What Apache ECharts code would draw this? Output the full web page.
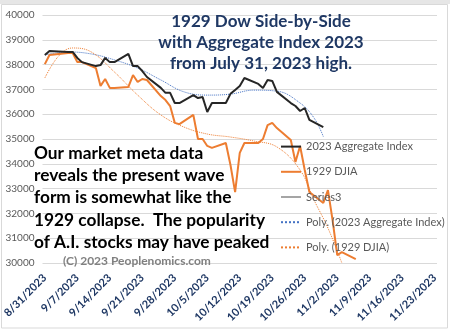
<!DOCTYPE html>
<html><head><meta charset="utf-8">
<script src="https://cdn.jsdelivr.net/npm/echarts@6/dist/echarts.min.js"></script>
<style>html,body{margin:0;padding:0;background:#fff}#c{width:450px;height:330px}</style>
</head><body><div id="c"></div>
<script>
// ---- data ----
const tickLabels = ['8/31/2023','9/7/2023','9/14/2023','9/21/2023','9/28/2023','10/5/2023','10/12/2023','10/19/2023','10/26/2023','11/2/2023','11/9/2023','11/16/2023','11/23/2023'];
const tradingDays = ['8/31/2023','9/1/2023','9/5/2023','9/6/2023','9/7/2023','9/8/2023','9/11/2023','9/12/2023','9/13/2023','9/14/2023','9/15/2023','9/18/2023','9/19/2023','9/20/2023','9/21/2023','9/22/2023','9/25/2023','9/26/2023','9/27/2023','9/28/2023','9/29/2023','10/2/2023','10/3/2023','10/4/2023','10/5/2023','10/6/2023','10/9/2023','10/10/2023','10/11/2023','10/12/2023','10/13/2023','10/16/2023','10/17/2023','10/18/2023','10/19/2023','10/20/2023','10/23/2023','10/24/2023','10/25/2023','10/26/2023','10/27/2023','10/30/2023','10/31/2023','11/1/2023','11/2/2023','11/3/2023','11/6/2023'];
const aggregate2023 = [38390,38550,38510,38510,38270,38100,37940,37980,38270,38100,38100,38430,37940,37940,37740,37500,37060,36860,36860,36450,36450,36770,36650,36690,36090,36450,36450,36820,36980,37140,37460,37220,37060,37380,37340,36900,36450,36330,36130,36250,35770,35480];
const djia1929 = [38020,38390,38470,38470,38100,38100,37860,37140,37420,37060,37060,37100,37580,37300,37420,37380,36730,36570,36330,35650,35600,35970,35000,35000,34720,34640,34840,33950,32860,34440,34840,34840,35000,35560,35650,35440,34960,34070,34720,33750,32860,32420,32940,31730,30320,30440,30160];
const polyAggDays = ['8/31/2023','9/5/2023','9/10/2023','9/15/2023','9/20/2023','9/25/2023','9/30/2023','10/5/2023','10/10/2023','10/15/2023','10/20/2023','10/25/2023','10/28/2023','10/30/2023'];
const polyAggValues = [38390,38510,38430,38190,37860,37380,36900,36770,36810,36970,36930,36450,35850,35100];
const polyDjiaDays = ['8/31/2023','9/3/2023','9/6/2023','9/10/2023','9/15/2023','9/20/2023','9/25/2023','9/30/2023','10/5/2023','10/10/2023','10/15/2023','10/20/2023','10/25/2023','10/28/2023','10/31/2023','11/3/2023'];
const polyDjiaValues = [37460,38350,38670,38510,37700,36770,35970,35480,35200,35080,34920,34680,33750,32540,31410,30000];
const titleLines = ['1929 Dow Side-by-Side','with Aggregate Index 2023','from July 31, 2023 high.'];
const noteLines = ['Our market meta data','reveals the present wave','form is somewhat like the','1929 collapse.  The popularity','of A.I. stocks may have peaked'];
const copyright = '(C) 2023 Peoplenomics.com';

// ---- build axis categories (calendar days) ----
const categories = [];
for (let d = new Date(2023,7,31); d <= new Date(2023,10,23); d.setDate(d.getDate()+1)) {
  categories.push((d.getMonth()+1)+'/'+d.getDate()+'/'+d.getFullYear());
}
const pair = (days, vals) => vals.map((v,i)=>[days[i], v]);

const chart = echarts.init(document.getElementById('c'), null, {renderer:'canvas'});
chart.setOption({
  animation:false,
  backgroundColor:'#fff',
  grid:{left:41, right:13, top:15, bottom:67, containLabel:false},
  xAxis:{type:'category', data:categories, boundaryGap:true,
    axisLine:{show:false}, axisTick:{show:false}, splitLine:{show:false},
    axisLabel:{rotate:45, margin:13, interval:(i,v)=>tickLabels.includes(v),
      color:'#1f3864', fontFamily:'Lato', fontWeight:'bold', fontSize:11}},
  yAxis:{type:'value', min:30000, max:40000, interval:1000,
    axisLine:{show:false}, axisTick:{show:false},
    splitLine:{lineStyle:{color:'#d9d9d9', width:1}},
    axisLabel:{color:'#595959', fontFamily:'Lato', fontSize:10, margin:8, formatter:v=>String(v)}},
  legend:{orient:'vertical', left:275, top:136, itemWidth:20, itemHeight:14, itemGap:14,
    itemStyle:{opacity:0},
    textStyle:{color:'#595959', fontFamily:'Lato', fontSize:11},
    data:['2023 Aggregate Index','1929 DJIA','Series3','Poly. (2023 Aggregate Index)','Poly. (1929 DJIA)']},
  series:[
    {name:'2023 Aggregate Index', type:'line', data:pair(tradingDays, aggregate2023), symbol:'none',
      lineStyle:{color:'#262626', width:2}, itemStyle:{color:'#262626'}, z:4},
    {name:'1929 DJIA', type:'line', data:pair(tradingDays, djia1929), symbol:'none',
      lineStyle:{color:'#ed7d31', width:2}, itemStyle:{color:'#ed7d31'}, z:3},
    {name:'Series3', type:'line', data:[], symbol:'none',
      lineStyle:{color:'#a5a5a5', width:2}, itemStyle:{color:'#a5a5a5'}},
    {name:'Poly. (2023 Aggregate Index)', type:'line', data:pair(polyAggDays, polyAggValues), symbol:'none', smooth:0.4,
      lineStyle:{color:'#4472c4', width:1, type:'dotted'}, itemStyle:{color:'#4472c4'}, z:2},
    {name:'Poly. (1929 DJIA)', type:'line', data:pair(polyDjiaDays, polyDjiaValues), symbol:'none', smooth:0.4,
      lineStyle:{color:'#ed7d31', width:1, type:'dotted'}, itemStyle:{color:'#ed7d31'}, z:2}
  ],
  graphic:[
    {type:'rect', shape:{x:0,y:0,width:450,height:4}, style:{fill:'#e6e6e6'}, silent:true, z:-10},
    {type:'rect', shape:{x:1.5,y:4.5,width:446,height:323.5}, style:{fill:null, stroke:'#d9d9d9', lineWidth:1}, silent:true, z:-9},
    {type:'text', x:261, y:11, z:10, style:{text:titleLines.join('\n'), textAlign:'center', textVerticalAlign:'top',
      font:'bold 17px Lato', lineHeight:21, fill:'#1f3864'}},
    {type:'text', x:34, y:142, z:10, style:{text:noteLines.join('\n'), textAlign:'left', textVerticalAlign:'top',
      font:'bold 17.3px Lato', lineHeight:22.3, fill:'#000'}},
    {type:'text', x:63, y:255, z:10, style:{text:copyright, textAlign:'left', textVerticalAlign:'top',
      font:'bold 12px Lato', fill:'#808080'}}
  ]
});
</script></body></html>
